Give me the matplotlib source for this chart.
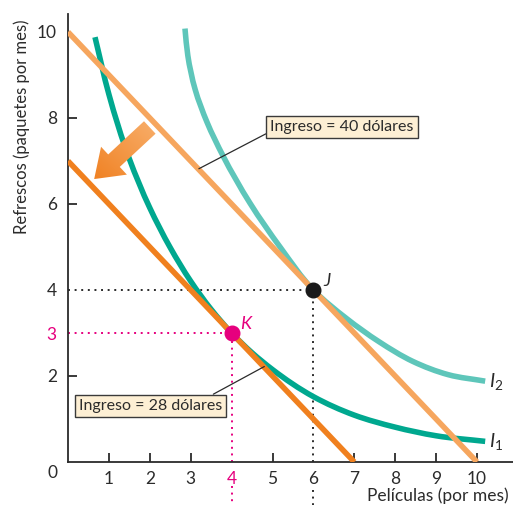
import numpy as np
import matplotlib
matplotlib.use("Agg")
import matplotlib.pyplot as plt
from matplotlib.path import Path
from matplotlib.patches import PathPatch, Polygon
from matplotlib.colors import LinearSegmentedColormap

plt.rcParams["font.family"] = ["Lato", "DejaVu Sans"]
plt.rcParams["mathtext.fontset"] = "custom"
plt.rcParams["mathtext.rm"] = "Lato"
plt.rcParams["mathtext.it"] = "Lato:italic"

# --- data -------------------------------------------------------------
price_movie = 4.0
price_soda = 4.0
incomes = [40, 28]
income_labels = ["Ingreso = 40 dólares", "Ingreso = 28 dólares"]

# indifference curve I1
i1_x = [0.66, 1.0, 1.5, 2.0, 2.5, 3.0, 3.5, 4.0, 4.5, 5.0, 6.0, 7.0, 8.0, 9.0, 10.2]
i1_y = [9.88, 8.55, 7.05, 5.91, 4.985, 4.205, 3.55, 3.0, 2.54, 2.15, 1.52, 1.09, 0.81, 0.61, 0.48]
# indifference curve I2
i2_x = [2.86, 2.93, 3.11, 3.40, 3.79, 4.45, 5.2, 6.0, 6.82, 7.6, 8.43, 9.3, 10.2]
i2_y = [10.08, 9.45, 8.66, 7.90, 7.12, 6.02, 4.98, 4.0, 3.33, 2.8, 2.34, 2.03, 1.88]

# best affordable points
point_J = (6, 4)
point_K = (4, 3)

x_ticks = [1, 2, 3, 4, 5, 6, 7, 8, 9, 10]
y_ticks = [2, 3, 4, 6, 8, 10]

# --- colours ------------------------------------------------------------
C_I1 = "#00A88F"
C_I2 = "#5EC6BA"
C_B40 = "#F6A65E"
C_B28 = "#F0801E"
C_PINK = "#E6007E"
C_TEXT = "#2b2b2b"
C_BOX = "#FDEFD4"

W, H = 513, 505
PX_X, PX_Y = 40.9, 43.0
fig = plt.figure(figsize=(W / 100, H / 100), dpi=100)
ax = fig.add_axes([68 / W, 43 / H, 445 / W, 448 / H])
ax.set_xlim(0, 445 / PX_X)
ax.set_ylim(0, 448 / PX_Y)


def smooth_path(xs, ys):
    """Smooth G1 cubic Bezier through the points (chord-length handles)."""
    P = np.column_stack([np.asarray(xs) * PX_X, np.asarray(ys) * PX_Y])
    n = len(P)
    T = np.zeros_like(P)
    for i in range(n):
        if i == 0:
            d = P[1] - P[0]
        elif i == n - 1:
            d = P[-1] - P[-2]
        else:
            a = P[i] - P[i - 1]
            b = P[i + 1] - P[i]
            la, lb = np.hypot(*a), np.hypot(*b)
            d = a / la * lb + b / lb * la
        T[i] = d / np.hypot(*d)
    verts = [P[0]]
    codes = [Path.MOVETO]
    for i in range(n - 1):
        L = np.hypot(*(P[i + 1] - P[i])) / 3.0
        verts += [P[i] + T[i] * L, P[i + 1] - T[i + 1] * L, P[i + 1]]
        codes += [Path.CURVE4] * 3
    V = np.array(verts)
    V[:, 0] /= PX_X
    V[:, 1] /= PX_Y
    return Path(V, codes)


# indifference curves
ax.add_patch(PathPatch(smooth_path(i2_x, i2_y), fill=False, ec=C_I2, lw=4.0,
                       capstyle="butt", zorder=3))
ax.add_patch(PathPatch(smooth_path(i1_x, i1_y), fill=False, ec=C_I1, lw=4.0,
                       capstyle="butt", zorder=3))

# budget lines
for inc, col in zip(incomes, [C_B40, C_B28]):
    ax.plot([0, inc / price_movie], [inc / price_soda, 0], color=col, lw=4.0,
            solid_capstyle="butt", zorder=4)

# guide lines to J and K
dot = (0, (1, 2.4))
ax.plot([0, point_J[0]], [point_J[1], point_J[1]], color=C_TEXT, lw=1.4, ls=dot, zorder=2)
ax.plot([point_J[0], point_J[0]], [0, point_J[1]], color=C_TEXT, lw=1.4, ls=dot, zorder=2)
ax.plot([point_J[0], point_J[0]], [-0.65, -1.02], color=C_TEXT, lw=1.4, ls=dot, clip_on=False)
ax.plot([0, point_K[0]], [point_K[1], point_K[1]], color=C_PINK, lw=1.4, ls=dot, zorder=2)
ax.plot([point_K[0], point_K[0]], [0, point_K[1]], color=C_PINK, lw=1.4, ls=dot, zorder=2)
ax.plot([point_K[0], point_K[0]], [-0.55, -1.02], color=C_PINK, lw=1.4, ls=dot, clip_on=False)

ax.plot(*point_J, "o", ms=10.5, color="#1a1a1a", zorder=6)
ax.plot(*point_K, "o", ms=10.5, color=C_PINK, zorder=6)
ax.text(6.24, 4.09, "J", fontsize=13, style="italic", color=C_TEXT, ha="left", va="baseline")
ax.text(4.22, 3.09, "K", fontsize=13, style="italic", color=C_PINK, ha="left", va="baseline")

# curve labels
ax.text(10.3, 1.74, r"$I_2$", fontsize=14, color=C_TEXT, ha="left", va="baseline")
ax.text(10.3, 0.34, r"$I_1$", fontsize=14, color=C_TEXT, ha="left", va="baseline")

# income labels with leaders
box = dict(boxstyle="square,pad=0.25", fc=C_BOX, ec="#3a3a3a", lw=1.0)
ax.annotate(income_labels[0], xy=(3.2, 6.82), xytext=(6.70, 7.80),
            fontsize=11.5, color=C_TEXT, ha="center", va="center", bbox=box,
            arrowprops=dict(arrowstyle="-", color=C_TEXT, lw=0.9,
                            shrinkA=0, shrinkB=0, relpos=(0.0, 0.15)), zorder=7)
ax.annotate(income_labels[1], xy=(4.8, 2.22), xytext=(2.02, 1.31),
            fontsize=11.5, color=C_TEXT, ha="center", va="center", bbox=box,
            arrowprops=dict(arrowstyle="-", color=C_TEXT, lw=0.9,
                            shrinkA=0, shrinkB=0, relpos=(0.88, 1.0)), zorder=7)

# shift arrow (income falls), gradient filled
tail = np.array(ax.transData.transform((2.0, 7.78)))
tip = np.array(ax.transData.transform((0.64, 6.58)))
d = tip - tail
u = d / np.hypot(*d)
nrm = np.array([-u[1], u[0]])
shaft_w, head_w, head_l = 17.0, 38.0, 27.0
base = tip - u * head_l
pts_px = [tail + nrm * shaft_w / 2, base + nrm * shaft_w / 2, base + nrm * head_w / 2, tip,
          base - nrm * head_w / 2, base - nrm * shaft_w / 2, tail - nrm * shaft_w / 2]
pts = ax.transData.inverted().transform(pts_px)
arrow = Polygon(pts, closed=True, fc="none", ec="none", zorder=5)
ax.add_patch(arrow)
xmn, ymn = pts.min(axis=0)
xmx, ymx = pts.max(axis=0)
gx, gy = np.meshgrid(np.linspace(0, 1, 64), np.linspace(0, 1, 64))
grad = (gx + gy) / 2.0
cmap = LinearSegmentedColormap.from_list("arr", ["#F08224", "#F8AE6A"])
im = ax.imshow(grad, extent=(xmn, xmx, ymn, ymx), origin="lower", cmap=cmap,
               aspect="auto", zorder=5, interpolation="bilinear")
im.set_clip_path(arrow)

# axes styling
for s in ["top", "right"]:
    ax.spines[s].set_visible(False)
for s in ["left", "bottom"]:
    ax.spines[s].set_color(C_TEXT)
    ax.spines[s].set_linewidth(1.3)

ax.set_xticks(x_ticks)
ax.set_xticklabels([str(t) for t in x_ticks])
ax.set_yticks(y_ticks)
ax.set_yticklabels([str(t) for t in y_ticks])
ax.tick_params(axis="both", direction="in", length=6.5, width=1.3, color=C_TEXT,
               labelsize=12.5, labelcolor=C_TEXT)
ax.tick_params(axis="x", pad=6.5)
ax.tick_params(axis="y", pad=8)
for t, tick in zip(x_ticks, ax.xaxis.get_major_ticks()):
    if t in (point_K[0], point_J[0]):
        tick.tick1line.set_visible(False)
    if t == point_K[0]:
        tick.label1.set_color(C_PINK)
for t, tick in zip(y_ticks, ax.yaxis.get_major_ticks()):
    if t in (point_K[1], point_J[1], 10):
        tick.tick1line.set_visible(False)
    if t == point_K[1]:
        tick.label1.set_color(C_PINK)

fig.text(53 / W, 1 - 473 / H, "0", fontsize=12.5, color=C_TEXT, ha="center", va="center")
fig.text(22 / W, 1 - 127 / H, "Refrescos (paquetes por mes)", rotation=90,
         fontsize=12, color=C_TEXT, ha="center", va="center")
fig.text(509 / W, 1 - 496 / H, "Películas (por mes)", fontsize=12.5, color=C_TEXT,
         ha="right", va="center")

fig.savefig("out.png", dpi=100)
